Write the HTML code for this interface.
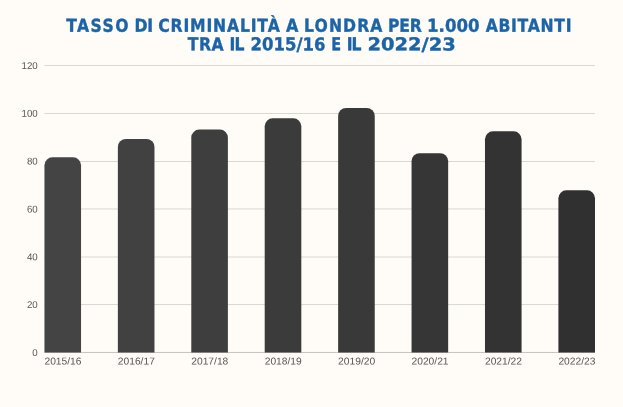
<!DOCTYPE html>
<html lang="it"><head><meta charset="utf-8"><title>Tasso di criminalità a Londra</title>
<style>
html,body{margin:0;padding:0;background:#fffcf7;}
body{width:623px;height:407px;overflow:hidden;font-family:"Liberation Sans",sans-serif;}
svg{display:block}
.t{font-family:"DejaVu Sans","Liberation Sans",sans-serif;font-weight:700;font-size:17.75px;fill:#1c64a8;stroke:#1c64a8;stroke-width:0.4px;text-rendering:geometricPrecision;vector-effect:non-scaling-stroke;}
.b{font-size:10px !important;}
.a{font-family:"Liberation Sans",sans-serif;font-size:9.8px;fill:#555;text-rendering:geometricPrecision;}
</style></head><body>
<svg width="623" height="407" viewBox="0 0 623 407">
<rect width="623" height="407" fill="#fffcf7"/>
<text class="t" transform="translate(66.21 31.71) rotate(0.1) scale(0.8800 1)" letter-spacing="1.591">TASSO</text>
<text class="t" transform="translate(134.49 31.75) rotate(0.1) scale(0.8800 1)" letter-spacing="-0.205">DI</text>
<text class="t" transform="translate(158.24 31.65) rotate(0.1) scale(0.8800 1)" letter-spacing="0.950">CRIMINALITÀ</text>
<text class="t" transform="translate(286.01 31.75) rotate(0.1) scale(0.9000 1)">A</text>
<text class="t" transform="translate(303.99 31.69) rotate(0.1) scale(0.8800 1)" letter-spacing="1.268">LONDRA</text>
<text class="t" transform="translate(387.99 31.73) rotate(0.1) scale(0.8800 1)" letter-spacing="-0.165">PER</text>
<text class="t" transform="translate(427.06 31.72) rotate(0.1) scale(0.9358 1)">1.000</text>
<text class="t" transform="translate(485.71 31.69) rotate(0.1) scale(0.8800 1)" letter-spacing="0.795">ABITANTI</text>
<text class="t" transform="translate(187.81 50.34) rotate(0.1) scale(0.8800 1)" letter-spacing="0.551">TRA</text>
<text class="t" transform="translate(229.49 50.36) rotate(0.1) scale(0.8800 1)" letter-spacing="-1.023">IL</text>
<text class="t" transform="translate(250.59 50.31) rotate(0.1) scale(0.9278 1)">2015/16</text>
<text class="t" transform="translate(331.29 50.36) rotate(0.1) scale(0.8104 1)">E</text>
<text class="t" transform="translate(346.74 50.36) rotate(0.1) scale(0.8800 1)" letter-spacing="-1.250">IL</text>
<text class="t" transform="translate(367.48 50.30) rotate(0.1) scale(1.0950 1)">2022/23</text>

<rect x="44.45" y="65.00" width="550.5" height="1" fill="#dad8d3"/>
<text class="a" x="37.7" y="68.96" transform="rotate(0.1 37.7 68.96)" text-anchor="end" textLength="16.20" lengthAdjust="spacingAndGlyphs">120</text>
<rect x="44.45" y="113.00" width="550.5" height="1" fill="#dad8d3"/>
<text class="a" x="37.7" y="116.79" transform="rotate(0.1 37.7 116.79)" text-anchor="end" textLength="16.20" lengthAdjust="spacingAndGlyphs">100</text>
<rect x="44.45" y="161.00" width="550.5" height="1" fill="#dad8d3"/>
<text class="a" x="37.7" y="164.62" transform="rotate(0.1 37.7 164.62)" text-anchor="end" textLength="10.80" lengthAdjust="spacingAndGlyphs">80</text>
<rect x="44.45" y="208.45" width="550.5" height="1" fill="#dad8d3"/>
<text class="a" x="37.7" y="212.45" transform="rotate(0.1 37.7 212.45)" text-anchor="end" textLength="10.80" lengthAdjust="spacingAndGlyphs">60</text>
<rect x="44.45" y="256.50" width="550.5" height="1" fill="#dad8d3"/>
<text class="a" x="37.7" y="260.28" transform="rotate(0.1 37.7 260.28)" text-anchor="end" textLength="10.80" lengthAdjust="spacingAndGlyphs">40</text>
<rect x="44.45" y="304.05" width="550.5" height="1" fill="#dad8d3"/>
<text class="a" x="37.7" y="308.11" transform="rotate(0.1 37.7 308.11)" text-anchor="end" textLength="10.80" lengthAdjust="spacingAndGlyphs">20</text>
<rect x="44.45" y="351.94" width="550.5" height="1" fill="#c4c2be"/>
<text class="a" x="37.7" y="355.94" transform="rotate(0.1 37.7 355.94)" text-anchor="end" textLength="5.40" lengthAdjust="spacingAndGlyphs">0</text>
<path d="M44.45 352.44V165.29A8 8 0 0 1 52.45 157.29H73.05A8 8 0 0 1 81.05 165.29V352.44Z" fill="#444444"/>
<text class="a b" x="44.45" y="364.6" transform="rotate(0.1 62.45 364.6)" textLength="37.0" lengthAdjust="spacingAndGlyphs">2015/16</text>
<path d="M117.87 352.44V146.88A8 8 0 0 1 125.87 138.88H146.47A8 8 0 0 1 154.47 146.88V352.44Z" fill="#414141"/>
<text class="a b" x="117.87" y="364.6" transform="rotate(0.1 135.87 364.6)" textLength="37.0" lengthAdjust="spacingAndGlyphs">2016/17</text>
<path d="M191.29 352.44V137.55A8 8 0 0 1 199.29 129.55H219.89A8 8 0 0 1 227.89 137.55V352.44Z" fill="#3e3e3e"/>
<text class="a b" x="191.29" y="364.6" transform="rotate(0.1 209.29 364.6)" textLength="37.0" lengthAdjust="spacingAndGlyphs">2017/18</text>
<path d="M264.71 352.44V126.31A8 8 0 0 1 272.71 118.31H293.31A8 8 0 0 1 301.31 126.31V352.44Z" fill="#3b3b3b"/>
<text class="a b" x="264.71" y="364.6" transform="rotate(0.1 282.71 364.6)" textLength="37.0" lengthAdjust="spacingAndGlyphs">2018/19</text>
<path d="M338.14 352.44V116.03A8 8 0 0 1 346.14 108.03H366.74A8 8 0 0 1 374.74 116.03V352.44Z" fill="#393939"/>
<text class="a b" x="338.14" y="364.6" transform="rotate(0.1 356.14 364.6)" textLength="37.0" lengthAdjust="spacingAndGlyphs">2019/20</text>
<path d="M411.56 352.44V161.23A8 8 0 0 1 419.56 153.23H440.16A8 8 0 0 1 448.16 161.23V352.44Z" fill="#363636"/>
<text class="a b" x="411.56" y="364.6" transform="rotate(0.1 429.56 364.6)" textLength="37.0" lengthAdjust="spacingAndGlyphs">2020/21</text>
<path d="M484.98 352.44V139.35A8 8 0 0 1 492.98 131.35H513.58A8 8 0 0 1 521.58 139.35V352.44Z" fill="#333333"/>
<text class="a b" x="484.98" y="364.6" transform="rotate(0.1 502.98 364.6)" textLength="37.0" lengthAdjust="spacingAndGlyphs">2021/22</text>
<path d="M558.40 352.44V198.30A8 8 0 0 1 566.40 190.30H587.00A8 8 0 0 1 595.00 198.30V352.44Z" fill="#303030"/>
<text class="a b" x="558.40" y="364.6" transform="rotate(0.1 576.40 364.6)" textLength="37.0" lengthAdjust="spacingAndGlyphs">2022/23</text>
</svg></body></html>
